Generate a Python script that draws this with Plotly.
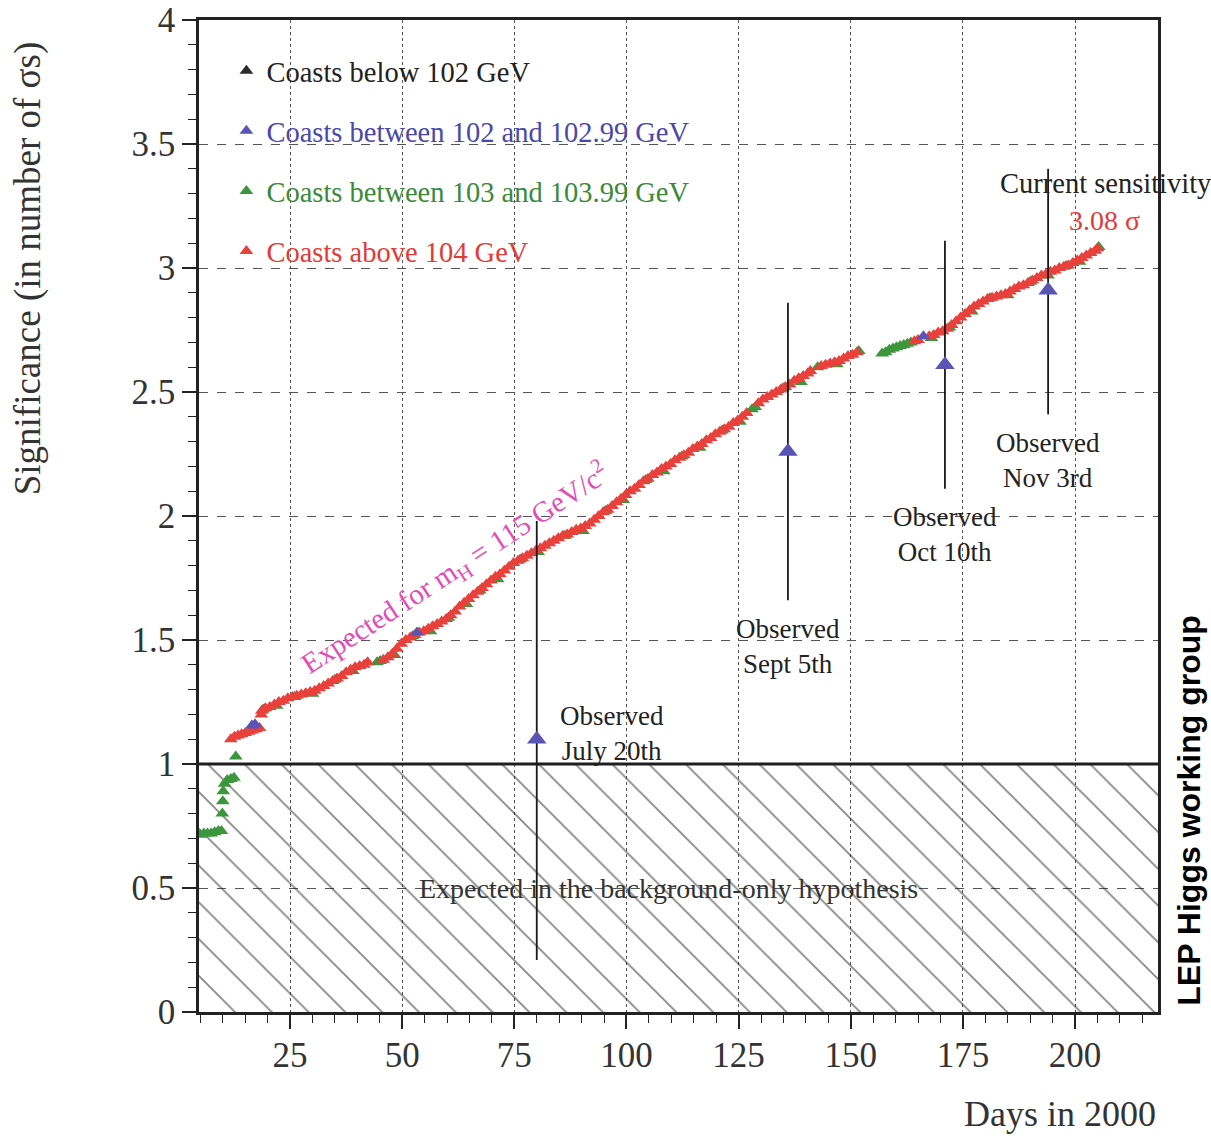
import plotly.graph_objects as go

SERIF = "Liberation Serif"

# Axis extents
x_range = [4.7, 218.5]
y_range = [0, 4]

# Expected significance per coast, split by centre-of-mass energy
days_above104 = [11.8, 12.6, 13.4, 14.2, 15.0, 15.8, 16.6, 17.4, 18.2,
                 18.6, 18.7, 19.5, 20.5, 21.5, 22.5, 23.5, 24.5, 25.5, 26.5, 27.5,
                 28.5, 29.5, 30.5, 31.5, 32.5, 33.5, 34.5, 35.5, 36.5, 37.5, 38.5,
                 39.5, 40.5, 41.5, 42.3,
                 45.8, 46.8, 47.8, 48.8, 49.8, 50.8, 51.8, 52.8, 53.8, 54.8, 55.8,
                 56.8, 57.8, 58.8, 59.8, 60.8, 61.8, 62.8, 63.8, 64.8, 65.8, 66.8,
                 67.8, 68.8, 69.8, 70.8, 71.8, 72.8, 73.8, 74.8, 75.8, 76.8, 77.8,
                 78.8, 79.8, 80.8, 81.8, 82.8, 83.8, 84.8, 85.8, 86.8, 87.8, 88.8,
                 89.8, 90.8, 91.8, 92.8, 93.8, 94.8, 95.8, 96.8, 97.8, 98.8, 99.8,
                 100.8, 101.8, 102.8, 103.8, 104.8, 105.8, 106.8, 107.8, 108.8, 109.8,
                 110.8, 111.8, 112.8, 113.8, 114.8, 115.8, 116.8, 117.8, 118.8, 119.8,
                 120.8, 121.8, 122.8, 123.8, 124.8, 125.8, 126.8,
                 129.4, 130.4, 131.4, 132.4, 133.4, 134.4, 135.4, 136.4, 137.4, 138.4,
                 139.4, 140.4, 141.0,
                 143.4, 144.4, 145.4, 146.4, 147.4, 148.4, 149.4, 150.4, 151.4,
                 164.2, 165.0,
                 167.5, 168.5, 169.5, 170.5, 171.5, 172.5, 173.5, 174.5, 175.5, 176.5,
                 177.5, 178.5, 179.5, 180.5, 181.5, 182.5, 183.5, 184.5, 185.5, 186.5,
                 187.5, 188.5, 189.5, 190.5, 191.5, 192.5, 193.5, 194.5, 195.5, 196.5,
                 197.5, 198.5, 199.5, 200.5, 201.5, 202.5, 203.5, 204.5, 205.0]
sig_above104 = [1.10, 1.11, 1.115, 1.12, 1.125, 1.13, 1.135, 1.14, 1.145,
                1.20, 1.215, 1.225, 1.23, 1.24, 1.25, 1.255, 1.265, 1.27, 1.275, 1.28,
                1.285, 1.29, 1.295, 1.305, 1.315, 1.325, 1.335, 1.345, 1.355, 1.37, 1.38,
                1.39, 1.395, 1.40, 1.41,
                1.42, 1.43, 1.445, 1.465, 1.485, 1.50, 1.51, 1.52, 1.53, 1.535, 1.545,
                1.555, 1.565, 1.575, 1.585, 1.60, 1.615, 1.635, 1.65, 1.665, 1.68, 1.695,
                1.71, 1.725, 1.74, 1.755, 1.765, 1.78, 1.795, 1.81, 1.82, 1.83, 1.84,
                1.85, 1.86, 1.87, 1.88, 1.89, 1.90, 1.91, 1.92, 1.925, 1.935, 1.945,
                1.95, 1.96, 1.97, 1.985, 2.00, 2.015, 2.025, 2.04, 2.055, 2.07, 2.085,
                2.10, 2.11, 2.125, 2.14, 2.15, 2.165, 2.175, 2.19, 2.20, 2.21,
                2.225, 2.235, 2.245, 2.255, 2.27, 2.28, 2.29, 2.305, 2.315, 2.33,
                2.34, 2.35, 2.36, 2.375, 2.385, 2.40, 2.415,
                2.455, 2.47, 2.48, 2.49, 2.50, 2.51, 2.52, 2.53, 2.545, 2.555,
                2.565, 2.575, 2.585,
                2.605, 2.61, 2.615, 2.62, 2.625, 2.635, 2.645, 2.65, 2.66,
                2.705, 2.71,
                2.725, 2.73, 2.74, 2.745, 2.755, 2.77, 2.785, 2.80, 2.815, 2.83,
                2.845, 2.855, 2.865, 2.875, 2.88, 2.885, 2.89, 2.895, 2.905, 2.915,
                2.925, 2.93, 2.94, 2.95, 2.96, 2.97, 2.975, 2.985, 2.99, 3.00,
                3.005, 3.01, 3.02, 3.03, 3.04, 3.05, 3.06, 3.07, 3.08]

days_103 = [5.0, 5.8, 6.6, 7.4, 8.2, 9.0, 9.7, 9.9, 10.0, 10.1, 10.4, 11.0, 11.8, 12.5,
            12.9, 19.0, 22.0, 26.0, 30.0, 35.0, 39.0, 44.4, 45.1, 48.3, 52.3, 56.3,
            60.3, 64.3, 67.3, 71.3, 76.3, 80.3, 86.3, 90.3, 95.3, 99.3, 104.3, 108.3,
            112.3, 116.3, 121.3, 125.3, 128.0, 128.7, 134.9, 138.9, 142.6, 146.9,
            151.8, 157.0, 157.8, 158.6, 159.4, 160.2, 161.0, 161.8, 162.6, 163.4,
            168.0, 172.0, 177.0, 181.0, 185.0, 190.0, 194.0, 198.0, 201.0, 205.3]
sig_103 = [0.715, 0.72, 0.72, 0.72, 0.725, 0.73, 0.73, 0.80, 0.85, 0.89, 0.92, 0.935,
           0.94, 0.945, 1.03, 1.22, 1.235, 1.27, 1.283, 1.34, 1.375, 1.41, 1.415, 1.44,
           1.515, 1.535, 1.59, 1.645, 1.70, 1.745, 1.825, 1.855, 1.92, 1.94, 2.02,
           2.065, 2.145, 2.18, 2.24, 2.275, 2.345, 2.38, 2.43, 2.44, 2.515, 2.54, 2.60,
           2.612, 2.665, 2.655, 2.66, 2.67, 2.675, 2.68, 2.685, 2.69, 2.695, 2.70,
           2.718, 2.76, 2.825, 2.878, 2.89, 2.945, 2.97, 3.008, 3.025, 3.085]

days_102 = [16.5, 17.2, 53.3, 166.2]
sig_102 = [1.155, 1.16, 1.53, 2.725]

# no coast below 102 GeV contributes
days_below102 = [None]
sig_below102 = [None]

# Observed significance with its spread
obs_days = [80, 136, 171, 194]
obs_sig = [1.10, 2.26, 2.61, 2.91]
obs_low = [0.21, 1.66, 2.11, 2.41]
obs_high = [1.98, 2.86, 3.11, 3.40]
obs_dates = ["July 20th", "Sept 5th", "Oct 10th", "Nov 3rd"]

# Background-only band
band_low, band_high = 0, 1

RED = "#e8413c"
GREEN = "#3c963c"
BLUE = "#5a54b4"
BLACK = "#2a2a2a"

fig = go.Figure()

# hatched background-only region
fig.add_trace(go.Scatter(
    x=x_range, y=[band_high, band_high], mode="lines",
    line=dict(color="#1e1e1e", width=3),
    fill="tozeroy", fillcolor="rgba(0,0,0,0)",
    fillpattern=dict(shape="\\", size=26, solidity=0.07, fgcolor="#111111",
                     bgcolor="rgba(0,0,0,0)"),
    showlegend=False, hoverinfo="skip"))

series = [
    ("Coasts between 103 and 103.99 GeV", days_103, sig_103, GREEN, "#3a8a3a", 3),
    ("Coasts above 104 GeV", days_above104, sig_above104, RED, "#e33a36", 4),
    ("Coasts between 102 and 102.99 GeV", days_102, sig_102, BLUE, "#4a48a8", 2),
    ("Coasts below 102 GeV", days_below102, sig_below102, BLACK, "#222222", 1),
]
for name, xs, ys, mcol, tcol, rank in series:
    fig.add_trace(go.Scatter(
        x=xs, y=ys, mode="markers",
        marker=dict(symbol="triangle-up", size=12, color=mcol, line=dict(width=0)),
        name=f"<span style='color:{tcol}'>{name}</span>",
        legendgroup=name, legendrank=rank))

# observed points with vertical spread lines
fig.add_trace(go.Scatter(
    x=obs_days, y=obs_sig, mode="markers",
    marker=dict(symbol="triangle-up", size=17, color=BLUE, line=dict(width=0)),
    error_y=dict(type="data", symmetric=False,
                 array=[h - s for h, s in zip(obs_high, obs_sig)],
                 arrayminus=[s - l for s, l in zip(obs_sig, obs_low)],
                 color="#1a1a1a", thickness=1.8, width=0),
    showlegend=False))

annotations = []
for i, (d, lo, date) in enumerate(zip(obs_days, obs_low, obs_dates)):
    if i == 0:
        annotations.append(dict(x=d + 4.8, y=obs_sig[i] + 0.025, xanchor="left", yanchor="middle",
                                text=f"Observed<br>{date}"))
    else:
        annotations.append(dict(x=d, y=lo - 0.186, xanchor="center", yanchor="middle",
                                text=f"Observed<br>{date}"))
for a in annotations:
    a.update(xref="x", yref="y", showarrow=False, align="center",
             font=dict(family=SERIF, size=27, color="#222222"))

annotations += [
    dict(x=182.8, y=3.34, xref="x", yref="y", xanchor="left", yanchor="middle",
         text="Current sensitivity", showarrow=False,
         font=dict(family=SERIF, size=28.5, color="#222222")),
    dict(x=206.5, y=3.19, xref="x", yref="y", xanchor="center", yanchor="middle",
         text=f"{sig_above104[-1]:.2f} σ", showarrow=False,
         font=dict(family=SERIF, size=28, color="#e33a36")),
    dict(x=109.3, y=0.5, xref="x", yref="y", xanchor="center", yanchor="middle",
         text="Expected in the background-only hypothesis", showarrow=False,
         font=dict(family=SERIF, size=28, color="#333333")),
    dict(x=61.8, y=1.79, xref="x", yref="y", xanchor="center", yanchor="middle",
         textangle=-33,
         text="Expected for m<sub>H</sub> = 115 GeV/c<sup>2</sup>", showarrow=False,
         font=dict(family=SERIF, size=29, color="#e34cb5")),
    dict(x=-0.178, y=0.75, xref="paper", yref="paper", xanchor="center", yanchor="middle",
         textangle=-90,
         text="Significance (in number of σs)", showarrow=False,
         font=dict(family=SERIF, size=37, color="#333333")),
    dict(x=1.0, y=-0.103, xref="paper", yref="paper", xanchor="right", yanchor="middle",
         text="Days in 2000", showarrow=False,
         font=dict(family=SERIF, size=36, color="#333333")),
    dict(x=1.032, y=0.2036, xref="paper", yref="paper", xanchor="center", yanchor="middle",
         textangle=-90,
         text="<b>LEP Higgs working group</b>", showarrow=False,
         font=dict(family="Liberation Sans", size=32, color="#000000")),
]

axis_common = dict(showline=True, linewidth=2.5, linecolor="#222222", mirror=True,
                   ticks="outside", ticklen=14, tickwidth=1.5, tickcolor="#222222",
                   showgrid=True, gridcolor="#555555", gridwidth=1.2, zeroline=False,
                   automargin=False,
                   tickfont=dict(family=SERIF, size=35, color="#333333"))

fig.update_xaxes(range=x_range, tick0=0, dtick=25, griddash="dot",
                 minor=dict(dtick=5, tick0=0, ticks="outside", ticklen=8, tickwidth=1.2,
                            tickcolor="#222222", showgrid=False),
                 ticklabelstandoff=-4, **axis_common)
fig.update_yaxes(range=y_range, tick0=0, dtick=0.5, griddash="dash",
                 minor=dict(dtick=0.1, tick0=0, ticks="outside", ticklen=8, tickwidth=1.2,
                            tickcolor="#222222", showgrid=False),
                 **axis_common)

fig.update_layout(
    width=1211, height=1136,
    margin=dict(l=199, r=53, t=20, b=124),
    paper_bgcolor="white", plot_bgcolor="white",
    annotations=annotations,
    legend=dict(x=0.0286, y=0.974, xanchor="left", yanchor="top",
                bgcolor="rgba(0,0,0,0)", traceorder="grouped", tracegroupgap=20,
                itemsizing="trace",
                font=dict(family=SERIF, size=28.5, color="#222222")),
)

fig.write_html("out.html")
